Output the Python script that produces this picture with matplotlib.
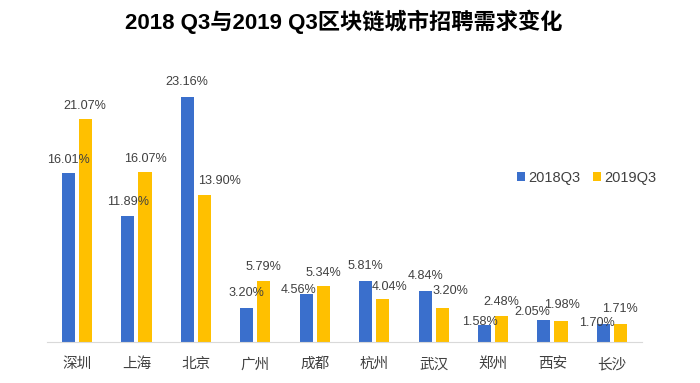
import numpy as np
import matplotlib.pyplot as plt

plt.rcParams['font.family'] = ['Liberation Sans', 'Noto Sans CJK SC', 'DejaVu Sans']

# datos del grafico
ciudades = ['深圳', '上海', '北京', '广州', '成都', '杭州', '武汉', '郑州', '西安', '长沙']
q3_2018 = [16.01, 11.89, 23.16, 3.20, 4.56, 5.81, 4.84, 1.58, 2.05, 1.70]
q3_2019 = [21.07, 16.07, 13.90, 5.79, 5.34, 4.04, 3.20, 2.48, 1.98, 1.71]
series = ['2018Q3', '2019Q3']

# desplazamiento de las etiquetas (pixeles) respecto a la cima de cada barra
desp_2018 = [(0, 13), (0, 14), (-1, 15), (0, 15), (-8, 4), (0, 15), (0, 15), (-5, 3), (-12, 8), (-6, 1)]
desp_2019 = [(-1, 13), (0, 13), (15, 14), (0, 14), (0, 13), (7, 12), (8, 17), (0, 14), (1, 16), (0, 15)]

azul = '#3a6fcc'
amarillo = '#ffc000'

fig = plt.figure(figsize=(7, 3.83), dpi=100)
ax = fig.add_axes([0.0676, 0.107, 0.849, 0.6906])

x = np.arange(len(ciudades))
ancho = 0.219
sep = 0.034
b1 = ax.bar(x - ancho / 2 - sep, q3_2018, ancho, color=azul, label=series[0])
b2 = ax.bar(x + ancho / 2 + sep, q3_2019, ancho, color=amarillo, label=series[1])

for barras, desp in ((b1, desp_2018), (b2, desp_2019)):
    for b, (dx, dy) in zip(barras, desp):
        v = b.get_height()
        ax.annotate(f'{v:.2f}%', (b.get_x() + b.get_width() / 2, v),
                    xytext=(dx, dy), textcoords='offset pixels',
                    ha='center', va='center', fontsize=9.1, color='#404040')

ax.set_xlim(-0.5, len(ciudades) - 0.5)
ax.set_ylim(0, 25)
ax.set_xticks(x)
ax.set_xticklabels(ciudades, fontsize=10.5, color='#404040')
ax.tick_params(axis='x', length=0, pad=11)
ax.set_yticks([])
for s in ['top', 'right', 'left']:
    ax.spines[s].set_visible(False)
ax.spines['bottom'].set_color('#d9d9d9')

fig.legend(handles=[b1, b2], labels=series, loc='center left',
           bbox_to_anchor=(517 / 700, 1 - 178 / 383), ncol=2, frameon=False,
           fontsize=10.5, handlelength=0.55, handleheight=0.55, columnspacing=0.9,
           handletextpad=0.2, borderpad=0, borderaxespad=0, labelcolor='#404040')

fig.text(0.491, 1 - 22 / 383, '2018 Q3与2019 Q3区块链城市招聘需求变化',
         ha='center', va='center', fontsize=16, fontweight='bold')

fig.savefig('out.png', dpi=100)
